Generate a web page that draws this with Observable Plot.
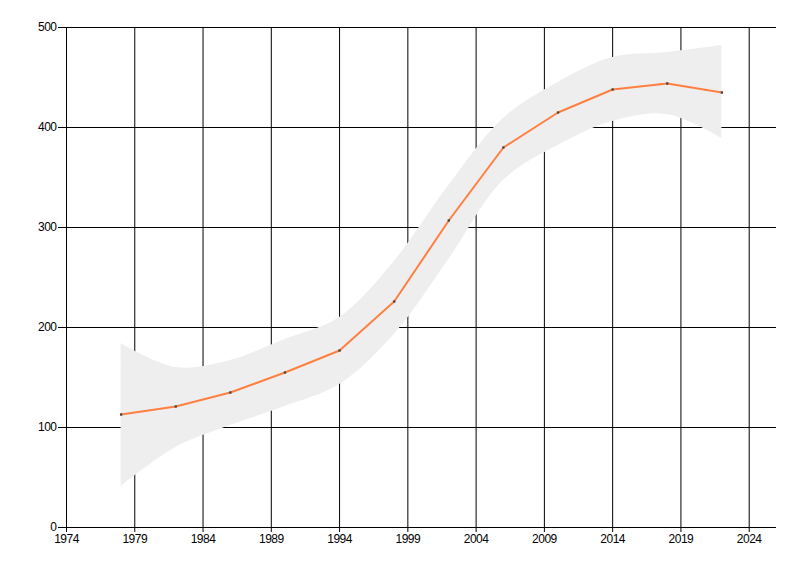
<!DOCTYPE html>
<html>
<head>
<meta charset="utf-8">
<script src="https://cdn.jsdelivr.net/npm/d3@7"></script>
<script src="https://cdn.jsdelivr.net/npm/@observablehq/plot@0.6"></script>
<style>
  html, body { margin: 0; padding: 0; background: #fff; }
  #chart svg { display: block; }
  #chart svg text { letter-spacing: -0.5px; }
</style>
</head>
<body>
<div id="chart"></div>
<script>
const years = [1978, 1982, 1986, 1990, 1994, 1998, 2002, 2006, 2010, 2014, 2018, 2022];
const values = [113, 121, 135, 155, 177, 226, 307, 380, 415, 438, 444, 435];
const upper = [184, 160, 167, 188, 210, 266, 342, 409, 445, 470, 475, 482];
const lower = [41, 80, 102, 121, 143, 193, 268, 347, 382, 406, 413, 389];
const xTicks = [1974, 1979, 1984, 1989, 1994, 1999, 2004, 2009, 2014, 2019, 2024];
const yTicks = [0, 100, 200, 300, 400, 500];

const data = years.map((y, i) => ({year: y, value: values[i], hi: upper[i], lo: lower[i]}));

const chart = Plot.plot({
  width: 800,
  height: 576,
  marginLeft: 66,
  marginRight: 24,
  marginTop: 27,
  marginBottom: 49,
  style: {fontFamily: "Liberation Sans, Arial, sans-serif", fontSize: "12px", color: "#000", background: "#fff"},
  x: {domain: [1974, 2026], ticks: xTicks, tickFormat: d => String(d), label: null},
  y: {domain: [0, 500], ticks: yTicks, label: null},
  marks: [
    Plot.ruleX(xTicks.filter(d => d !== 1974), {x: d => d, y1: 0, y2: 500, stroke: "#000", strokeWidth: 1}),
    Plot.ruleY(yTicks, {y: d => d, x1: 1974, x2: 2026, stroke: "#000", strokeWidth: 1}),
    Plot.ruleX([1974], {x: d => d, y1: 0, y2: 500, stroke: "#000", strokeWidth: 1}),
    Plot.areaY(data, {x: "year", y1: "lo", y2: "hi", fill: "#eeeeee", curve: "catmull-rom"}),
    Plot.line(data, {x: "year", y: "value", stroke: "#ff7f40", strokeWidth: 2}),
    Plot.dot(data, {x: "year", y: "value", r: 1.3, fill: "#444", stroke: null, symbol: "square"}),
    Plot.axisX({ticks: xTicks, tickFormat: d => String(d), tickSize: 5, tickPadding: 2, stroke: "#000", fill: "#000", label: null}),
    Plot.axisY({ticks: yTicks, tickSize: 8, tickPadding: 2, stroke: "#000", fill: "#000", label: null})
  ]
});
document.getElementById("chart").appendChild(chart);
</script>
</body>
</html>
